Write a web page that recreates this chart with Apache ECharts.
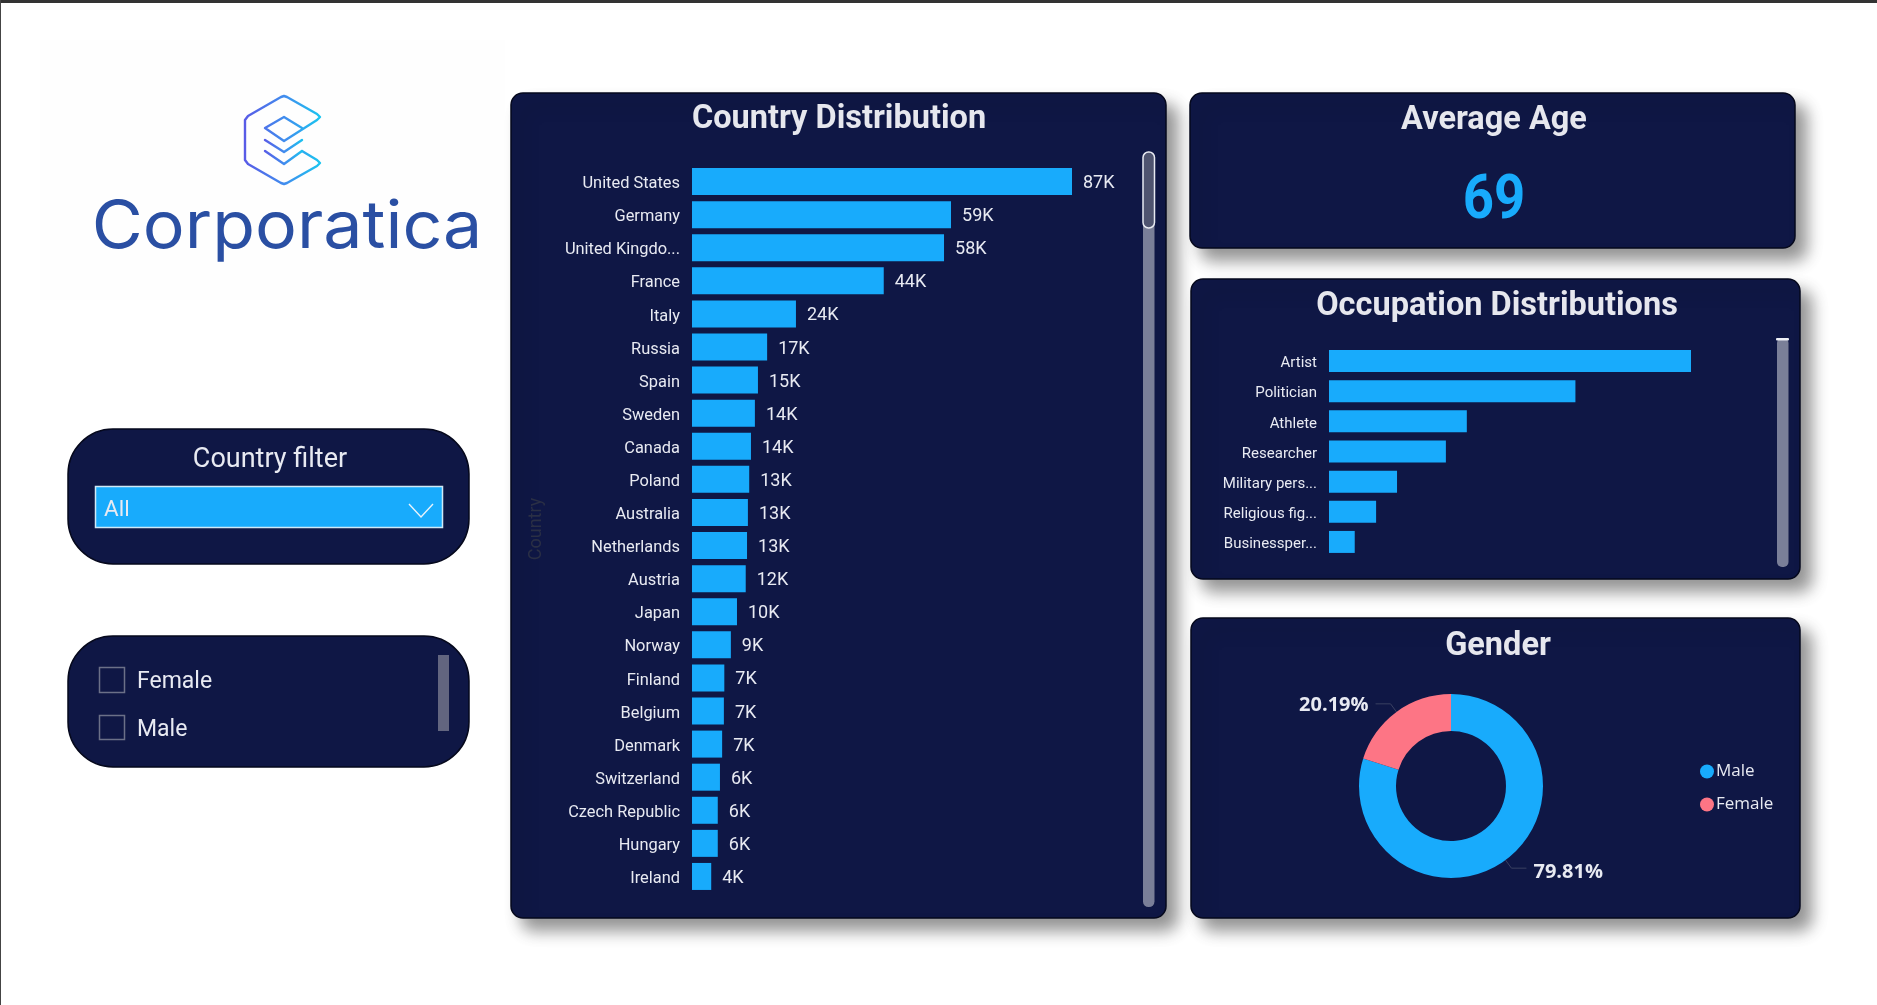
<!DOCTYPE html>
<html>
<head>
<meta charset="utf-8">
<style>html,body{margin:0;padding:0;background:#fff}#c{width:1877px;height:1005px}</style>
<script src="https://cdn.jsdelivr.net/npm/echarts@6/dist/echarts.min.js"></script>
</head>
<body>
<div id="c"></div>
<script>
var countries = ['United States','Germany','United Kingdo...','France','Italy','Russia','Spain','Sweden','Canada','Poland','Australia','Netherlands','Austria','Japan','Norway','Finland','Belgium','Denmark','Switzerland','Czech Republic','Hungary','Ireland'];
var countryValues = [87,59.3,57.7,43.9,23.8,17.2,15.1,14.4,13.5,13.1,12.8,12.6,12.3,10.3,8.9,7.4,7.3,6.9,6.4,5.9,5.9,4.4];
var occupations = ['Artist','Politician','Athlete','Researcher','Military pers...','Religious fig...','Businessper...'];
var occupationValues = [83,56.5,31.6,26.8,15.6,10.8,5.9];
var genders = ['Male','Female'];
var genderValues = [79.81,20.19];
var averageAge = '69';

var NAVY='#0f1745', BLUE='#18abfc', PINK='#fd7585', TXT='#e8eaf2';
var BASE='Roboto, sans-serif';

function panel(x,y,w,h,r,shadow){
  var s={fill:NAVY,stroke:'#05081c',lineWidth:1.5};
  if(shadow){s.shadowBlur=16;s.shadowOffsetX=11;s.shadowOffsetY=12;s.shadowColor='rgba(0,0,0,0.42)';}
  return {type:'rect',z:0,shape:{x:x,y:y,width:w,height:h,r:r},style:s};
}
function rrect(x,y,w,h,r,fill,stroke){
  return {type:'rect',z:3,shape:{x:x,y:y,width:w,height:h,r:r},style:{fill:fill,stroke:stroke||null,lineWidth:stroke?1.5:0}};
}
function label(t,x,y,size,fill,align,weight,fam){
  return {type:'text',z:4,x:x,y:y,style:{text:t,fill:fill,fontSize:size,fontWeight:weight||400,fontFamily:fam||BASE,textAlign:align||'left',textVerticalAlign:'middle'}};
}
var grad={type:'linear',x:0,y:0,x2:1,y2:0,colorStops:[{offset:0,color:'#5a58e6'},{offset:0.55,color:'#3f8fee'},{offset:1,color:'#18c8f0'}]};
function pl(pts){
  return {type:'polyline',z:3,shape:{points:pts},style:{stroke:grad,fill:null,lineWidth:2.4,lineJoin:'round',lineCap:'round'}};
}
function heading(t,x,y){
  return {text:t,left:x,top:y,padding:0,textAlign:'center',textVerticalAlign:'middle',textStyle:{color:'#e6e7ee',fontSize:32.5,fontWeight:700,fontFamily:BASE}};
}
var age=label(averageAge,1494,202,62,BLUE,'center',700);
age.scaleX=0.88;

var graphics=[
  {type:'rect',z:0,shape:{x:0,y:0,width:1877,height:3},style:{fill:'#333'}},
  {type:'rect',z:0,shape:{x:0,y:0,width:1,height:1005},style:{fill:'#444'}},
  {type:'rect',z:0,shape:{x:40,y:40,width:465,height:260},style:{fill:'#fefefe'}},
  pl([[302,151],[317,160],[320,163],[317,166],[287,183],[284,184],[281,183],[248,164],[245,160],[245,120],[248,116],[281,97],[284,96],[287,97],[317,114],[320,117],[317,120],[284,141],[265,128],[284,117],[302,128]]),
  pl([[265,140],[284,152],[302,140]]),
  pl([[265,151],[284,164],[302,151]]),
  {type:'text',z:3,x:287,y:228,scaleX:1.06,style:{text:'Corporatica',fill:'#2a4fa3',fontSize:66,fontFamily:'Inter, sans-serif',fontWeight:400,textAlign:'center',textVerticalAlign:'middle'}},

  panel(68,429,401,135,45,false),
  label('Country filter',270,460,27,TXT,'center'),
  rrect(95.5,486.5,347,41,0,BLUE,'#cfe9f7'),
  label('All',104,510,22.5,TXT),
  {type:'polyline',z:4,shape:{points:[[409,504],[421,517],[433,504]]},style:{stroke:'#e8f3fb',fill:null,lineWidth:1.4}},

  panel(68,636,401,131,45,false),
  rrect(99.5,667.5,25,25,0,null,'#6b7088'),
  rrect(99.5,715.5,25,24,0,null,'#6b7088'),
  label('Female',137,682,23,TXT),
  label('Male',137,730,23,TXT),
  rrect(438,655,11,76,0,'#62657f'),

  panel(511,93,655,825,12,true),
  rrect(1143,152,11.5,755,5.5,'#7a7f98'),
  rrect(1143,152,11.5,76,5.5,'#4f5470','#e8eaf2'),

  panel(1190,93,605,155,12,true),
  age,

  panel(1191,279,609,300,12,true),
  rrect(1777,338,11.5,229,5,'#7a7f98'),
  rrect(1776,338,13,2.5,1,'#eef0f6'),

  panel(1191,618,609,300,12,true)
];

var option={
  animation:false,
  backgroundColor:'#ffffff',
  graphic:{elements:graphics},
  title:[
    heading('Country Distribution',839,120),
    heading('Average Age',1494,121),
    heading('Occupation Distributions',1497,307),
    heading('Gender',1498,647)
  ],
  legend:{
    data:genders,orient:'vertical',left:1695,top:758,itemWidth:14,itemHeight:14,itemGap:16,icon:'circle',
    textStyle:{color:TXT,fontSize:17,fontFamily:'"Open Sans", sans-serif',padding:[0,0,0,-3]}
  },
  grid:[
    {left:692,top:165,width:380,height:728},
    {left:1329,top:346,width:362,height:211}
  ],
  xAxis:[
    {gridIndex:0,type:'value',min:0,max:87,show:false},
    {gridIndex:1,type:'value',min:0,max:83,show:false}
  ],
  yAxis:[
    {gridIndex:0,type:'category',inverse:true,data:countries,
     name:'Country',nameLocation:'middle',nameGap:147,nameRotate:90,
     nameTextStyle:{color:'#2a2f45',fontSize:18,fontFamily:BASE},
     axisLine:{show:false},axisTick:{show:false},
     axisLabel:{interval:0,margin:12,color:TXT,fontSize:16.4,fontFamily:BASE,verticalAlign:'top',lineHeight:5}},
    {gridIndex:1,type:'category',inverse:true,data:occupations,
     axisLine:{show:false},axisTick:{show:false},
     axisLabel:{interval:0,margin:12,color:TXT,fontSize:15,fontFamily:BASE,verticalAlign:'top',lineHeight:5}}
  ],
  series:[
    {type:'bar',xAxisIndex:0,yAxisIndex:0,data:countryValues,barWidth:27,itemStyle:{color:BLUE},
     label:{show:true,position:'right',distance:11,offset:[0,2],color:TXT,fontSize:18,fontFamily:BASE,
       formatter:function(p){return Math.round(p.value)+'K';}}},
    {type:'bar',xAxisIndex:1,yAxisIndex:1,data:occupationValues,barWidth:22,itemStyle:{color:BLUE}},
    {type:'pie',center:[1451,786],radius:[55,92],startAngle:90,clockwise:true,percentPrecision:2,
     data:genders.map(function(g,i){return {name:g,value:genderValues[i]};}),
     color:[BLUE,PINK],
     label:{show:true,position:'outside',formatter:'{d}%',color:TXT,fontSize:20,fontWeight:700,fontFamily:'"Open Sans", sans-serif'},
     labelLine:{show:true,length:10,length2:15,lineStyle:{color:'#3a4062',width:1}},
     labelLayout:function(p){return p.dataIndex===0?{dx:2,dy:4}:{dx:-2,dy:1};}}
  ]
};
var chart=echarts.init(document.getElementById('c'),null,{renderer:'canvas'});
chart.setOption(option);
</script>
</body>
</html>
